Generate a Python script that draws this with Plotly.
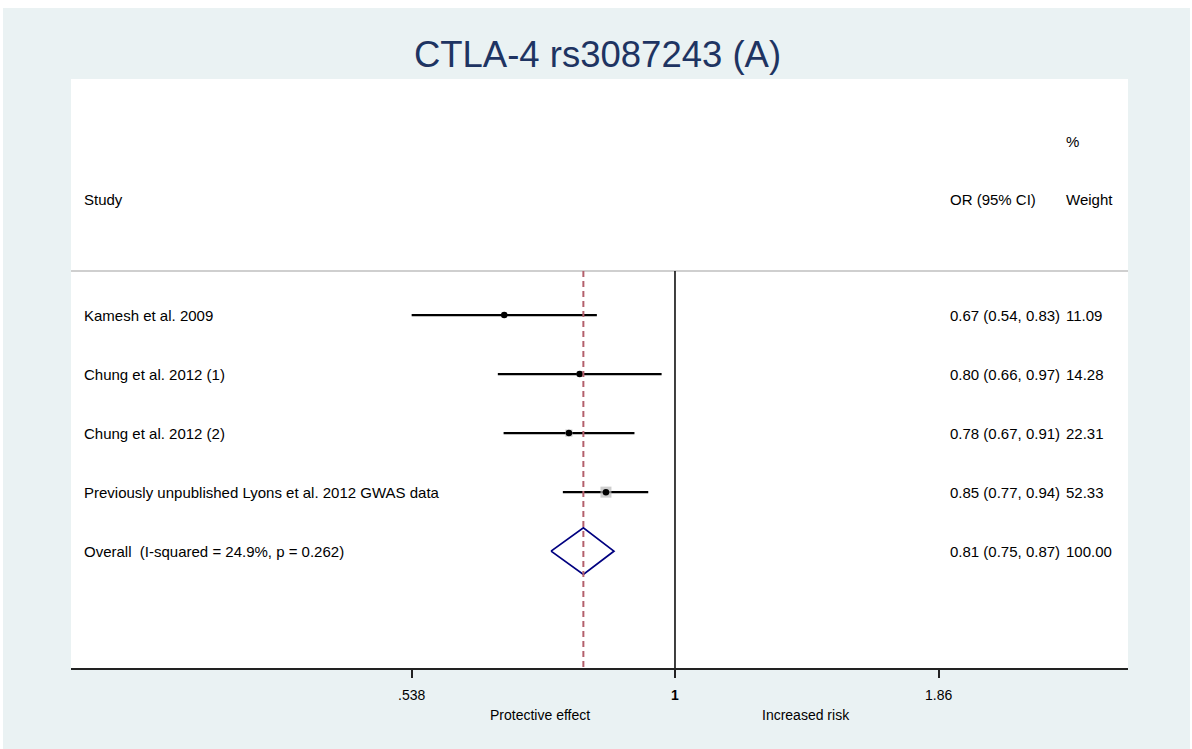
import math
import plotly.graph_objects as go

# ---------------- data ----------------
studies = ["Kamesh et al. 2009", "Chung et al. 2012 (1)", "Chung et al. 2012 (2)",
           "Previously unpublished Lyons et al. 2012 GWAS data"]
or_est = [0.669, 0.799, 0.779, 0.850]
ci_low = [0.538, 0.659, 0.668, 0.768]
ci_high = [0.832, 0.969, 0.909, 0.939]
weights = [11.09, 14.28, 22.31, 52.33]

overall_label = "Overall  (I-squared = 24.9%, p = 0.262)"
overall_est = 0.806
overall_low = 0.747
overall_high = 0.866
overall_weight = 100.00

tick_vals = [0.538, 1.0, 1.86]
tick_text = [".538", "<b>1</b>", "1.86"]
left_label = "Protective effect"
right_label = "Increased risk"
title_text = "CTLA-4 rs3087243 (A)"

# ---------------- geometry (pixels) ----------------
W, H = 1192, 749
ML, MR, MT, MB = 71, 64, 79, 81
PW, PH = W - ML - MR, H - MT - MB
FONT = "Liberation Sans, Arial, sans-serif"


def px_x(px):
    return (px - ML) / PW


def px_y(py):
    return (H - MB - py) / PH


L = math.log
rows = list(range(1, len(studies) + 1))
overall_row = len(studies) + 1
header_line_y = 0.254
y_range = [6.98, -3.0]

fig = go.Figure()

# header separator line
fig.add_shape(type="line", xref="paper", yref="y", x0=0, x1=1,
              y0=header_line_y, y1=header_line_y,
              line=dict(color="#cfcfcf", width=2))
# null line
fig.add_shape(type="line", xref="x", yref="y", x0=0, x1=0,
              y0=header_line_y, y1=y_range[0],
              line=dict(color="black", width=1.5))
# overall effect dashed line
fig.add_shape(type="line", xref="x", yref="y", x0=L(overall_est), x1=L(overall_est),
              y0=header_line_y, y1=y_range[0],
              line=dict(color="#b4606c", width=2, dash="6px,4px"))

# confidence intervals
for r, lo, hi in zip(rows, ci_low, ci_high):
    fig.add_trace(go.Scatter(x=[L(lo), L(hi)], y=[r, r], mode="lines",
                             line=dict(color="black", width=2.2),
                             hoverinfo="skip", showlegend=False))

# weight boxes
fig.add_trace(go.Scatter(
    x=[L(v) for v in or_est], y=rows, mode="markers",
    marker=dict(symbol="square", color="#b9b9b9",
                size=[11 * math.sqrt(w / max(weights)) for w in weights],
                line=dict(width=0)),
    hoverinfo="skip", showlegend=False))
# point estimates
fig.add_trace(go.Scatter(
    x=[L(v) for v in or_est], y=rows, mode="markers",
    marker=dict(symbol="circle", color="black", size=6.5),
    hoverinfo="skip", showlegend=False))

# overall diamond
dh = 0.395
fig.add_trace(go.Scatter(
    x=[L(overall_low), L(overall_est), L(overall_high), L(overall_est), L(overall_low)],
    y=[overall_row, overall_row - dh, overall_row, overall_row + dh, overall_row],
    mode="lines", line=dict(color="#000080", width=1.8),
    hoverinfo="skip", showlegend=False))

annotations = []


def txt(x, y, s, xref="paper", yref="y", size=15, anchor="left", color="black"):
    annotations.append(dict(x=x, y=y, xref=xref, yref=yref, text=s, showarrow=False,
                            xanchor=anchor, yanchor="middle",
                            font=dict(family=FONT, size=size, color=color)))


col_study = px_x(82)
col_or = px_x(948)
col_w = px_x(1064)

# headers
txt(col_study, -0.966, "Study")
txt(col_or, -0.966, "OR (95% CI)")
txt(col_w, -0.966, "Weight")
txt(col_w, -1.949, "%")

for r, name, e, lo, hi, w in zip(rows, studies, or_est, ci_low, ci_high, weights):
    txt(col_study, r, name)
    txt(col_or, r, f"{e:.2f} ({lo:.2f}, {hi:.2f})")
    txt(col_w, r, f"{w:.2f}")

txt(col_study, overall_row, overall_label)
txt(col_or, overall_row, f"{overall_est:.2f} ({overall_low:.2f}, {overall_high:.2f})")
txt(col_w, overall_row, f"{overall_weight:.2f}")

# axis direction labels
txt(-0.317, px_y(715), left_label, xref="x", yref="paper", size=14, anchor="center")
txt(0.308, px_y(715), right_label, xref="x", yref="paper", size=14, anchor="center")

# white outer margin strips
shapes_edge = [
    (0, W, 0, 8),
    (0, 3, 0, H),
    (1190, W, 0, H),
]
for x0, x1, y0, y1 in shapes_edge:
    fig.add_shape(type="rect", xref="paper", yref="paper",
                  x0=px_x(x0), x1=px_x(x1), y0=px_y(y1), y1=px_y(y0),
                  fillcolor="white", line=dict(width=0), layer="above")

fig.update_layout(
    width=W, height=H,
    margin=dict(l=ML, r=MR, t=MT, b=MB, pad=0),
    paper_bgcolor="#eaf2f3",
    plot_bgcolor="white",
    title=dict(text=title_text, x=597.5 / W, xref="container", xanchor="center",
               y=1 - 54 / H, yref="container", yanchor="middle",
               font=dict(family=FONT, size=36.5, color="#1e3462")),
    annotations=annotations,
    showlegend=False,
)
fig.update_xaxes(
    range=[-1.4218, 1.0664], showgrid=False, zeroline=False,
    showline=True, linecolor="#222222", linewidth=2,
    tickmode="array", tickvals=[L(v) for v in tick_vals], ticktext=tick_text,
    ticks="outside", ticklen=8, tickwidth=1.5, tickcolor="#222222",
    tickfont=dict(family=FONT, size=14, color="black"),
    ticklabelstandoff=5,
    fixedrange=True,
)
fig.update_yaxes(range=y_range, visible=False, showgrid=False, zeroline=False,
                 fixedrange=True)

fig.write_html("out.html")
